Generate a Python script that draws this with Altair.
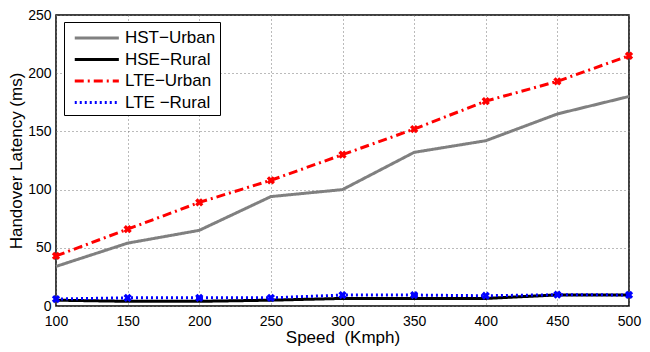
import altair as alt
import pandas as pd

speeds = [100, 150, 200, 250, 300, 350, 400, 450, 500]
hst_urban = [34, 54, 65, 94, 100, 132, 142, 165, 180]
hse_rural = [5, 4, 4, 5, 6.5, 6.5, 6.5, 9.5, 9.5]
lte_urban = [43, 66, 89, 108, 130, 152, 176, 193, 215]
lte_rural = [6, 7, 7, 7, 9.4, 9.4, 8.8, 9.7, 9.5]

series = ["HST\u2212Urban", "HSE\u2212Rural", "LTE\u2212Urban", "LTE \u2212Rural"]
colors = ["#808080", "#000000", "#ff0000", "#0000ff"]
dashes = [[1, 0], [1, 0], [9, 4, 2, 4], [2, 3]]
widths = [3, 3, 2.5, 1.5]
values = [hst_urban, hse_rural, lte_urban, lte_rural]

rows = []
for name, vals in zip(series, values):
    for s, v in zip(speeds, vals):
        rows.append({"speed": s, "latency": v, "series": name})
df = pd.DataFrame(rows)

x = alt.X("speed:Q", title="Speed\u00a0\u00a0(Kmph)",
          scale=alt.Scale(domain=[100, 500], nice=False),
          axis=alt.Axis(values=speeds, labelPadding=8, labelFlush=False, titlePadding=1))
y = alt.Y("latency:Q", title="Handover Latency (ms)",
          scale=alt.Scale(domain=[0, 250], nice=False),
          axis=alt.Axis(values=[0, 50, 100, 150, 200, 250], labelFlush=False,
                        labelPadding=5, titlePadding=2))

color = alt.Color("series:N", scale=alt.Scale(domain=series, range=colors),
                  legend=alt.Legend(title=None, orient="none", legendX=8, legendY=7,
                                    symbolType="M-0.5,0H3.7", symbolSize=441,
                                    symbolStrokeWidth=3, labelFontSize=17,
                                    labelFont="Liberation Sans", rowPadding=1.5,
                                    labelOffset=33,
                                    strokeColor="black", fillColor="white",
                                    padding=4, labelLimit=200))
dash = alt.StrokeDash("series:N", scale=alt.Scale(domain=series, range=dashes), legend=None)
sw = alt.StrokeWidth("series:N", scale=alt.Scale(domain=series, range=widths), legend=None)

lines = alt.Chart(df).mark_line().encode(x=x, y=y, color=color, strokeDash=dash, strokeWidth=sw)

pts = alt.Chart(df[df["series"].str.startswith("LTE")]).mark_point(
    shape="cross", angle=45, filled=True, size=70, opacity=1
).encode(x=x, y=y, color=alt.Color("series:N", scale=alt.Scale(domain=series, range=colors), legend=None))

chart = alt.layer(lines, pts).properties(
    width=573, height=291,
    autosize=alt.AutoSizeParams(type="none"),
    padding={"left": 48, "top": 7, "right": 13, "bottom": 44},
).configure_axis(
    labelFont="Liberation Sans", titleFont="Liberation Sans",
    labelFontSize=14, titleFontSize=17, titleFontWeight="normal",
    labelColor="black", titleColor="black",
    grid=True, gridDash=[1, 3], gridColor="#777", gridOpacity=1,
    domain=False, ticks=False,
).configure_view(
    stroke="black", strokeWidth=1.5
)

chart.save("out.html", embed_options={"renderer": "svg", "actions": False})
